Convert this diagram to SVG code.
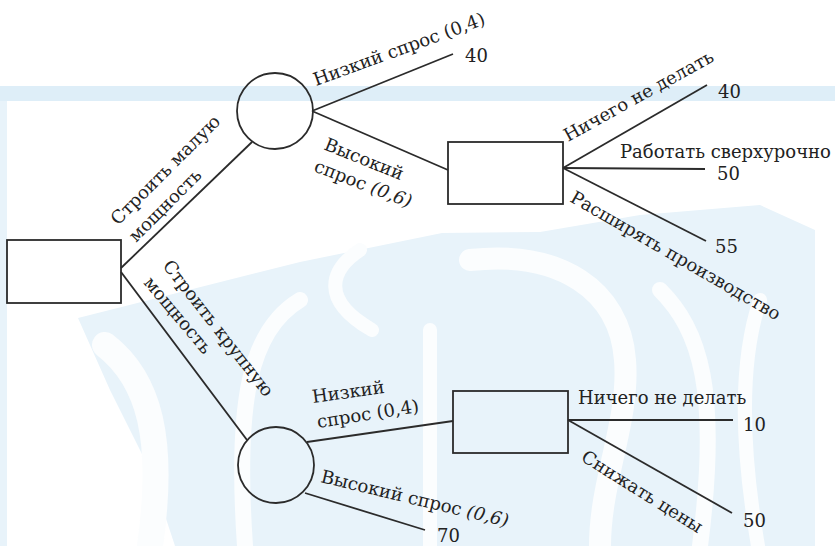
<svg xmlns="http://www.w3.org/2000/svg" width="835" height="546" viewBox="0 0 835 546">
<style>
.bg{fill:#deeef8}
.bg2{fill:#e8f3fa}
.gap{fill:none;stroke:#fbfdfe;stroke-linecap:round}
.node{fill:none;stroke:#2b2b2b;stroke-width:1.8}
.edge{stroke:#2b2b2b;stroke-width:1.8;fill:none}
.lbl{font-family:"DejaVu Serif","Liberation Serif",serif;font-size:18px;fill:#222}
.it{font-style:italic}
</style>
<rect x="0" y="0" width="835" height="546" fill="#ffffff"/>
<g id="watermark">
<rect class="bg" x="0" y="86" width="835" height="15"/>
<rect class="bg2" x="0" y="101" width="7" height="445"/>
<polygon class="bg2" points="78,318 300,262 442,233 540,232 640,215 760,205 815,230 815,546 175,546 150,470 110,390"/>
<path class="gap" stroke-width="26" d="M 105 345 C 150 380 165 440 150 546"/>
<path class="gap" stroke-width="16" d="M 300 300 C 250 330 235 400 245 546"/>
<path class="gap" stroke-width="14" d="M 360 250 C 330 270 320 300 372 330"/>
<path class="gap" stroke-width="14" d="M 430 330 L 430 546"/>
<path class="gap" stroke-width="22" d="M 470 260 C 560 250 620 290 625 360 C 630 420 600 480 600 546"/>
<path class="gap" stroke-width="16" d="M 660 290 C 700 330 720 390 700 546"/>
<path class="gap" stroke-width="14" d="M 760 300 C 740 360 740 440 758 546"/>
</g>
<g id="connectors">
<line class="edge" x1="121" y1="268" x2="252" y2="142"/>
<line class="edge" x1="121" y1="272" x2="247" y2="440"/>
<line class="edge" x1="312" y1="111" x2="453" y2="54"/>
<line class="edge" x1="312" y1="111" x2="448" y2="170"/>
<line class="edge" x1="563" y1="168" x2="707" y2="85"/>
<line class="edge" x1="563" y1="168" x2="705" y2="169"/>
<line class="edge" x1="563" y1="168" x2="706" y2="241"/>
<line class="edge" x1="307" y1="442" x2="453" y2="421"/>
<line class="edge" x1="305" y1="493" x2="425" y2="530"/>
<line class="edge" x1="568" y1="420" x2="733" y2="420"/>
<line class="edge" x1="568" y1="420" x2="732" y2="513"/>
</g>
<g id="root"><rect class="node" x="7" y="240" width="114" height="63" fill="#fff"/></g>
<g id="chance1"><circle class="node" cx="275" cy="111" r="38"/></g>
<g id="decision2"><rect class="node" x="448" y="142" width="115" height="62" fill="#fff"/></g>
<g id="chance2"><circle class="node" cx="276" cy="465" r="38"/></g>
<g id="decision3"><rect class="node" x="453" y="391" width="115" height="62"/></g>
<g id="labels" class="lbl">
<text class="lbl" transform="translate(118,226) rotate(-45)">Строить малую</text>
<text class="lbl" transform="translate(136,243) rotate(-45)">мощность</text>
<text class="lbl" transform="translate(162,266) rotate(52)">Строить крупную</text>
<text class="lbl" transform="translate(143,283) rotate(50)">мощность</text>
<text class="lbl" transform="translate(316,86) rotate(-20)">Низкий спрос (0,4)</text>
<text class="lbl" x="465" y="62">40</text>
<text class="lbl" transform="translate(323,149) rotate(22)">Высокий</text>
<text class="lbl" transform="translate(313,171) rotate(21)">спрос <tspan class="it">(0,6)</tspan></text>
<text class="lbl" transform="translate(568,142) rotate(-29)">Ничего не делать</text>
<text class="lbl" x="718" y="98">40</text>
<text class="lbl" x="620" y="158">Работать сверхурочно</text>
<text class="lbl" x="717" y="180">50</text>
<text class="lbl" transform="translate(569,201) rotate(30)">Расширять производство</text>
<text class="lbl" x="715" y="253">55</text>
<text class="lbl" transform="translate(313,403) rotate(-8)">Низкий</text>
<text class="lbl" transform="translate(318,428) rotate(-9)">спрос (0,4)</text>
<text class="lbl" transform="translate(320,482) rotate(13.5)">Высокий спрос <tspan class="it">(0,6)</tspan></text>
<text class="lbl" x="437" y="542">70</text>
<text class="lbl" x="578" y="404">Ничего не делать</text>
<text class="lbl" x="743" y="431">10</text>
<text class="lbl" transform="translate(580,460) rotate(32)">Снижать цены</text>
<text class="lbl" x="743" y="527">50</text>
</g>
</svg>
